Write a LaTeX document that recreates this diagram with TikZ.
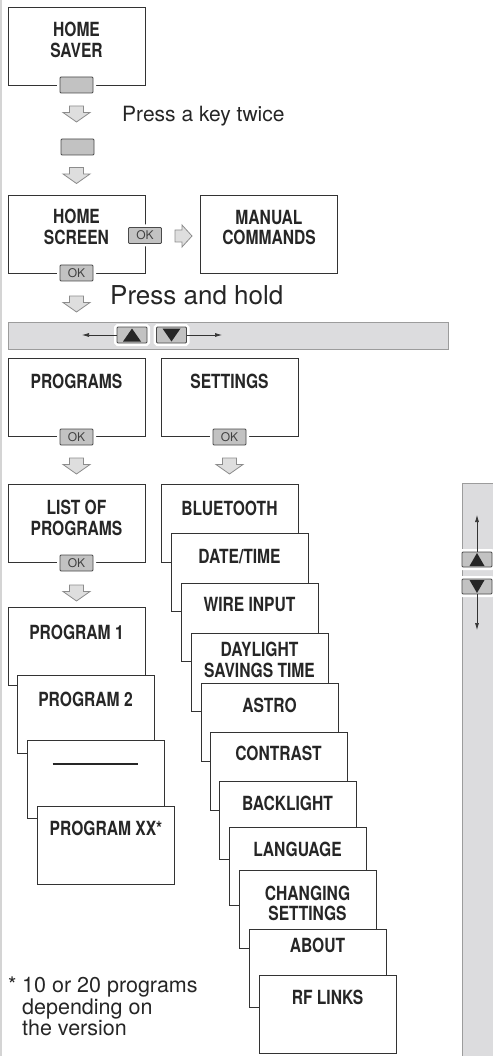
\documentclass[tikz,border=0pt]{standalone}
\usepackage{fontspec}
\setmainfont{TeX Gyre Heros}
\newfontfamily\condfont[FakeStretch=0.8]{TeX Gyre Heros}
\usetikzlibrary{arrows.meta}

\definecolor{boxline}{HTML}{333333}
\definecolor{keygray}{HTML}{C2C2C2}
\definecolor{keyline}{HTML}{4A4A4A}
\definecolor{bargray}{HTML}{DCDCDE}
\definecolor{barline}{HTML}{9C9C9C}
\definecolor{arrowfill}{HTML}{DEDEDE}
\definecolor{arrowline}{HTML}{8C8C8C}
\definecolor{edgegray}{HTML}{D4D4D4}

\tikzset{
  menu/.style={draw=boxline, line width=1.2pt, fill=white, minimum width=137pt,
    minimum height=78pt, anchor=north west, inner sep=0pt},
  title/.style={font=\condfont\bfseries\fontsize{19.5}{20.5}\selectfont, text=black!85,
    align=center, inner sep=0pt},
  note/.style={font=\fontsize{21}{22}\selectfont, text=black!85, inner sep=0pt},
  okkey/.style={draw=keyline, line width=0.8pt, fill=keygray, rounded corners=1pt,
    minimum width=33pt, minimum height=16pt, inner sep=0pt, text=black!75,
    font=\fontsize{12}{12}\selectfont, preaction={draw=white, line width=6pt}},
  bar/.style={draw=barline, line width=1pt, fill=bargray, anchor=north west, inner sep=0pt},
  blockline/.style={draw=arrowline, fill=arrowfill, line width=0.8pt, line join=miter},
  downblock/.pic={\path[blockline] (-7,-8) -- (7,-8) -- (7,-1.5) -- (13.5,-1.5) -- (0,8)
    -- (-13.5,-1.5) -- (-7,-1.5) -- cycle;},
  rightblock/.pic={\path[blockline] (-8.5,-6) -- (-1.5,-6) -- (-1.5,-11) -- (8.5,0)
    -- (-1.5,11) -- (-1.5,6) -- (-8.5,6) -- cycle;},
  scrollarrow/.style={line width=0.7pt, black!80, -{Latex[length=7pt,width=4pt]}}
}

\begin{document}
\begin{tikzpicture}[x=1pt, y=-1pt]
  \useasboundingbox (0,0) rectangle (492,1056);
  \draw[edgegray, line width=1.5pt] (1,0) -- (1,1056);

  % home saver and home screen
  \node[menu] (saver) at (8,7) {};
  \node[title] (saverT) at (76.5,40) {HOME\\SAVER};
  \node[okkey] (saverK) at (76.5,85) {};
  \pic (ar1) at (76.5,114) {downblock};
  \node[note, anchor=base west] (twice) at (122,122) {Press a key twice};
  \node[okkey] (anyK) at (77.5,147) {};
  \pic (ar2) at (76.5,175.5) {downblock};
  \node[menu] (screen) at (8,195) {};
  \node[title] (screenT) at (76.5,227) {HOME\\SCREEN};
  \node[okkey] (screenK) at (76.5,273) {OK};
  \node[okkey] (manualK) at (145,235.5) {OK};
  \pic (ar3) at (183.5,236) {rightblock};
  \node[menu] (manual) at (200,195) {};
  \node[title] (manualT) at (269,227.5) {MANUAL\\COMMANDS};
  \pic (ar4) at (76.5,304) {downblock};
  \node[note, font=\fontsize{26}{27}\selectfont, anchor=base west] (hold) at (110,304) {Press and hold};

  % horizontal scroll bar
  \node[bar, minimum width=440pt, minimum height=27pt] (hbar) at (8,322) {};
  \node[okkey, minimum width=30pt, preaction={draw=white, line width=5pt}] (hup) at (132,335) {};
  \node[okkey, minimum width=30pt, preaction={draw=white, line width=5pt}] (hdown) at (171.5,335) {};
  \fill[black!85] ([shift={(-9,6.5)}]hup.center) -- ([shift={(9,6.5)}]hup.center) -- ([shift={(0,-6.5)}]hup.center) -- cycle;
  \fill[black!85] ([shift={(-9,-6.5)}]hdown.center) -- ([shift={(9,-6.5)}]hdown.center) -- ([shift={(0,6.5)}]hdown.center) -- cycle;
  \coordinate (hleft) at (82,335);
  \coordinate (hright) at (222,335);
  \draw[scrollarrow] (hup) -- (hleft);
  \draw[scrollarrow] (hdown) -- (hright);

  % programs and settings
  \node[menu] (prog) at (8,358) {};
  \node[title] (progT) at (76.5,381) {PROGRAMS};
  \node[okkey] (progK) at (76.5,437) {OK};
  \node[menu] (sett) at (161,358) {};
  \node[title] (settT) at (229.5,381) {SETTINGS};
  \node[okkey] (settK) at (229.5,437) {OK};
  \pic (ar5) at (76.5,466) {downblock};
  \pic (ar6) at (229.5,466) {downblock};

  % list of programs
  \node[menu] (list) at (8,484) {};
  \node[title] (listT) at (76.5,518) {LIST OF\\PROGRAMS};
  \node[okkey] (listK) at (76.5,563) {OK};
  \pic (ar7) at (76.5,593) {downblock};
  \node[menu] (p1) at (8,607) {};
  \node[title] (p1T) at (76.5,632) {PROGRAM 1};
  \node[menu] (p2) at (17,675) {};
  \node[title] (p2T) at (85.5,699) {PROGRAM 2};
  \node[menu] (pdots) at (27,740) {};
  \node[title] (pdotsT) at (95,764) {\rule{85pt}{1.8pt}};
  \node[menu] (pxx) at (37,806) {};
  \node[title] (pxxT) at (106,828) {PROGRAM XX*};

  % settings list
  \node[menu] (bt) at (161,484) {};
  \node[title] (btT) at (229.5,508) {BLUETOOTH};
  \node[menu] (dt) at (171,533) {};
  \node[title] (dtT) at (239.5,557) {DATE/TIME};
  \node[menu] (wire) at (181,583) {};
  \node[title] (wireT) at (249.5,605) {WIRE INPUT};
  \node[menu] (dst) at (191,633) {};
  \node[title] (dstT) at (259.5,660) {DAYLIGHT\\SAVINGS TIME};
  \node[menu] (astro) at (201,683) {};
  \node[title] (astroT) at (269.5,705) {ASTRO};
  \node[menu] (contr) at (210,732) {};
  \node[title] (contrT) at (278.5,753) {CONTRAST};
  \node[menu] (back) at (219,781) {};
  \node[title] (backT) at (287.5,803) {BACKLIGHT};
  \node[menu] (lang) at (229,827) {};
  \node[title] (langT) at (297.5,849) {LANGUAGE};
  \node[menu] (chg) at (239,870) {};
  \node[title] (chgT) at (307.5,903.5) {CHANGING\\SETTINGS};
  \node[menu] (about) at (249,929) {};
  \node[title] (aboutT) at (317.5,945) {ABOUT};
  \node[menu] (rf) at (259,975) {};
  \node[title] (rfT) at (327.5,997) {RF LINKS};

  % vertical scroll bar
  \node[bar, minimum width=40pt, minimum height=580pt] (vbar) at (462,483) {};
  \node[okkey, minimum width=30pt, minimum height=15pt, preaction={draw=white, line width=5pt}] (vup) at (477,559.5) {};
  \node[okkey, minimum width=30pt, minimum height=15pt, preaction={draw=white, line width=5pt}] (vdown) at (477,586.5) {};
  \fill[black!85] ([shift={(-7.5,6.5)}]vup.center) -- ([shift={(7.5,6.5)}]vup.center) -- ([shift={(0,-6.5)}]vup.center) -- cycle;
  \fill[black!85] ([shift={(-7.5,-6.5)}]vdown.center) -- ([shift={(7.5,-6.5)}]vdown.center) -- ([shift={(0,6.5)}]vdown.center) -- cycle;
  \coordinate (vtop) at (477,515);
  \coordinate (vbot) at (477,630);
  \draw[scrollarrow] (vup) -- (vtop);
  \draw[scrollarrow] (vdown) -- (vbot);

  % footnote
  \node[note, font=\fontsize{21.5}{21.5}\selectfont, align=left, anchor=north west] (foot) at (8,977)
    {\makebox[14pt][l]{*}10 or 20 programs\\\hspace*{14pt}depending on\\\hspace*{14pt}the version};
\end{tikzpicture}
\end{document}
